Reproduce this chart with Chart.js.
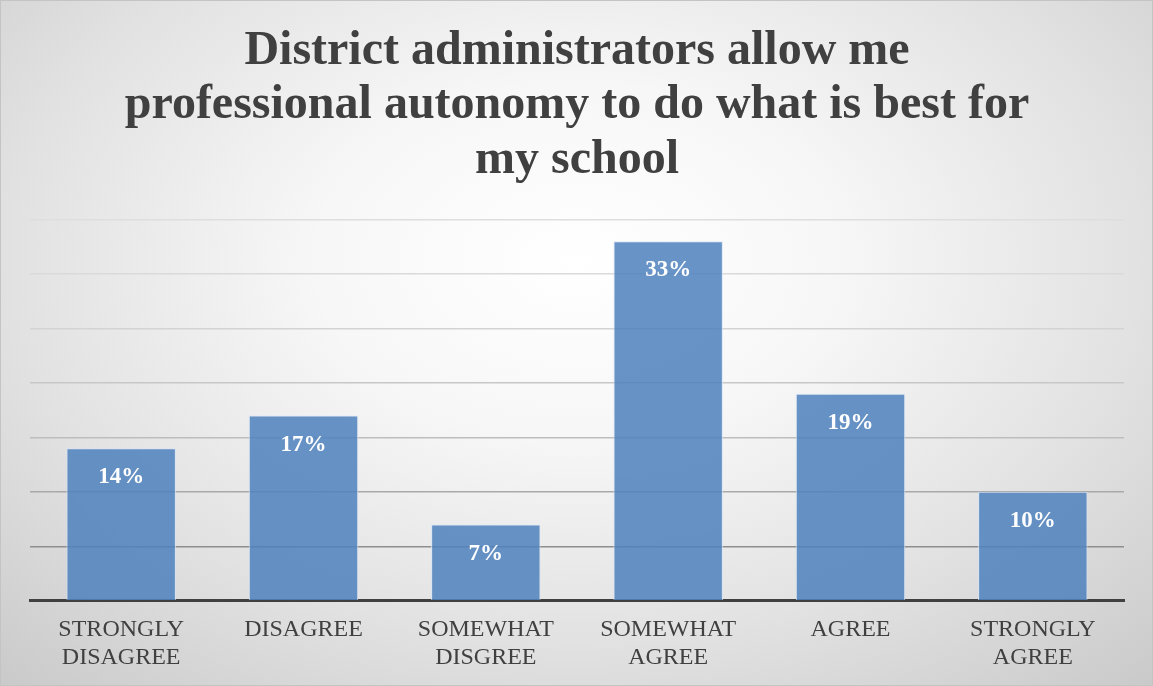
<!DOCTYPE html>
<html lang="en">
<head>
  <meta charset="UTF-8" />
  <title>District administrators allow me professional autonomy</title>
  <script src="https://cdn.jsdelivr.net/npm/chart.js"></script>
  <style>
    html, body {
      margin: 0;
      padding: 0;
    }
    #wrap {
      width: 1153px;
      height: 686px;
      box-sizing: border-box;
      border: 1px solid #c4c4c4;
      background: radial-gradient(ellipse 75% 85% at 50% 38%, #ffffff 0%, #f7f7f7 30%, #e2e2e2 65%, #c9c9c9 100%);
    }
  </style>
</head>
<body>

  <div id="wrap"><canvas id="chart"></canvas></div>

  <script>
    const titleLines = ["District administrators allow me", "professional autonomy to do what is best for", "my school"];
    const categories = [
      ["STRONGLY", "DISAGREE"],
      "DISAGREE",
      ["SOMEWHAT", "DISGREE"],
      ["SOMEWHAT", "AGREE"],
      "AGREE",
      ["STRONGLY", "AGREE"]
    ];
    const percentValues = [14, 17, 7, 33, 19, 10];
    const axisMax = 35;
    const axisStep = 5;

    const serif = "'Liberation Serif', 'Times New Roman', serif";

    // gridlines fade from dark near the axis to pale at the top
    const gridShade = { 0: "rgba(0,0,0,0)", 5: "#8e8e8e", 10: "#a9a9a9", 15: "#bdbdbd", 20: "#c7c7c7", 25: "#d3d3d3", 30: "#dadada", 35: "#dedede" };

    // white percentage text inside the top of every bar
    const barLabels = {
      id: "barLabels",
      afterDatasetsDraw(chart) {
        const ctx = chart.ctx;
        const meta = chart.getDatasetMeta(0);
        ctx.save();
        ctx.fillStyle = "#ffffff";
        ctx.font = "bold 23px " + serif;
        ctx.textAlign = "center";
        ctx.textBaseline = "alphabetic";
        meta.data.forEach((bar, i) => {
          ctx.fillText(chart.data.datasets[0].data[i] + "%", bar.x, bar.y + 35);
        });
        ctx.restore();
      }
    };

    new Chart(document.getElementById("chart"), {
      type: "bar",
      data: {
        labels: categories,
        datasets: [{
          data: percentValues,
          backgroundColor: "rgba(79,129,189,0.86)",
          borderColor: "rgba(214,228,246,0.9)",
          borderWidth: 1,
          barPercentage: 0.6,
          categoryPercentage: 1.0
        }]
      },
      options: {
        responsive: true,
        maintainAspectRatio: false,
        animation: false,
        layout: {
          padding: { left: 29, right: 28, top: 0, bottom: 6 }
        },
        plugins: {
          legend: { display: false },
          tooltip: { enabled: false },
          title: {
            display: true,
            text: titleLines,
            color: "#404040",
            font: { family: serif, size: 48, weight: "bold", lineHeight: 1.135 },
            padding: { top: 23, bottom: 32 }
          }
        },
        scales: {
          x: {
            z: 1,
            grid: { display: false },
            border: { display: true, color: "#404040", width: 3 },
            ticks: {
              color: "#404040",
              font: { family: serif, size: 24, lineHeight: 1.17 },
              padding: 7,
              maxRotation: 0,
              autoSkip: false
            }
          },
          y: {
            min: 0,
            max: axisMax,
            ticks: { display: false, stepSize: axisStep },
            border: { display: false },
            grid: {
              drawTicks: false,
              lineWidth: 1.5,
              color: ctx => gridShade[ctx.tick.value] || "#cccccc"
            }
          }
        }
      },
      plugins: [barLabels]
    });
  </script>

</body>
</html>
